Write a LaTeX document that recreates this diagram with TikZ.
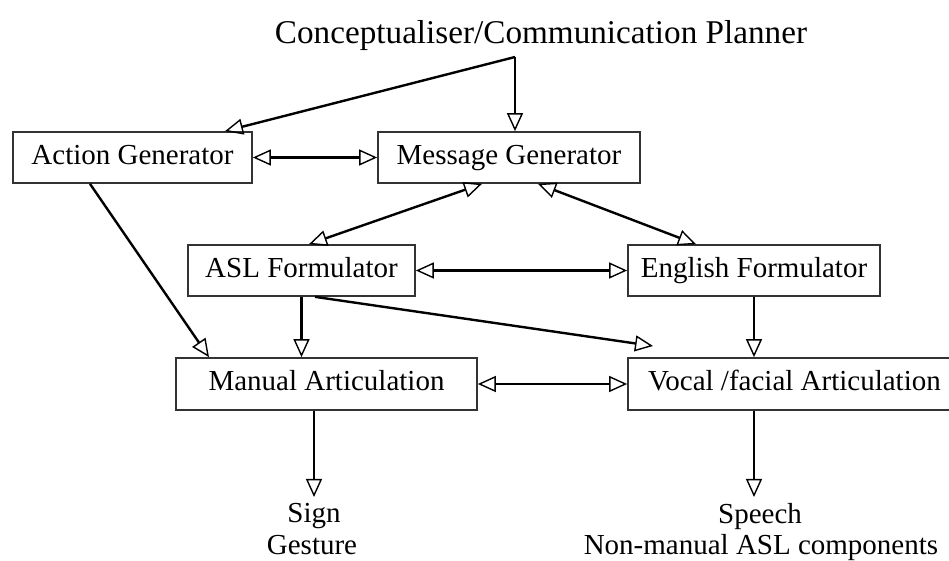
\documentclass[tikz,border=0pt]{standalone}
\usepackage{fontspec}
\setmainfont{Liberation Serif}
\usetikzlibrary{arrows.meta}
\begin{document}
\begin{tikzpicture}[x=0.5pt,y=-0.5pt,
  box/.style={draw=black!80, line width=0.85pt, minimum height=25.5pt, inner sep=0pt,
    font=\fontsize{14.5}{17.4}\selectfont, text height=0.9em, text depth=0.22em},
  lbl/.style={font=\fontsize{14.5}{17.5}\selectfont, inner sep=0pt},
  arr/.style={line width=1.2pt, -{Triangle[open,length=9pt,width=8pt,line width=0.7pt]}},
  darr/.style={line width=1.2pt, {Triangle[open,length=9pt,width=8pt,line width=0.7pt]}-{Triangle[open,length=9pt,width=8pt,line width=0.7pt]}}]
\useasboundingbox (0,0) rectangle (949,561);
\fill[white] (0,0) rectangle (949,561);
\node[lbl, font=\fontsize{16.6}{20}\selectfont, anchor=base] (title) at (541,44) {Conceptualiser/Communication Planner};
\node[box, minimum width=119.5pt] (AG) at (132.5,157.5) {Action Generator};
\node[box, minimum width=131pt] (MG) at (509,157.5) {Message Generator};
\node[box, minimum width=113.5pt] (ASL) at (301.5,270.5) {ASL Formulator};
\node[box, minimum width=126pt] (EF) at (754,270.5) {English Formulator};
\node[box, minimum width=150.5pt, minimum height=26pt] (MA) at (326.5,384) {Manual Articulation};
\node[box, minimum width=166.5pt, minimum height=26pt] (VA) at (794.5,384) {Vocal /facial Articulation};
\node[lbl, anchor=north, inner sep=3pt] (sign) at (314,497) {Sign};
\node[lbl, anchor=base] (gesture) at (312,554) {Gesture};
\node[lbl, anchor=north, inner sep=3pt] (speech) at (760,497) {Speech};
\node[lbl, anchor=base] (nonman) at (761,554) {Non-manual ASL components};
\coordinate (J) at (515,57);
\coordinate (V1) at (653,346);
\coordinate (agtop) at ([xshift=46.25pt]AG.north);
\draw[arr] (J) -- (agtop);
\draw[arr] (J) -- (J |- MG.north);
\draw[darr] (AG.east) -- (MG.west);
\draw[darr] ([xshift=-13.5pt]MG.south) -- ([xshift=3.75pt]ASL.north);
\draw[darr] ([xshift=14.5pt]MG.south) -- ([xshift=-29pt]EF.north);
\draw[darr] (ASL.east) -- (EF.west);
\draw[arr] ([xshift=-21.25pt]AG.south) -- ([xshift=-58.75pt]MA.north);
\draw[arr] (ASL.south) -- (ASL.south |- MA.north);
\draw[arr] ([xshift=6.75pt]ASL.south) -- (V1);
\draw[arr] (EF.south) -- (EF.south |- VA.north);
\draw[darr] (MA.east) -- (VA.west);
\draw[arr] ([xshift=-6.25pt]MA.south) -- (sign.north);
\draw[arr] ([xshift=-20.25pt]VA.south) -- ([xshift=-20.25pt]VA.south |- speech.north);
\end{tikzpicture}
\end{document}
